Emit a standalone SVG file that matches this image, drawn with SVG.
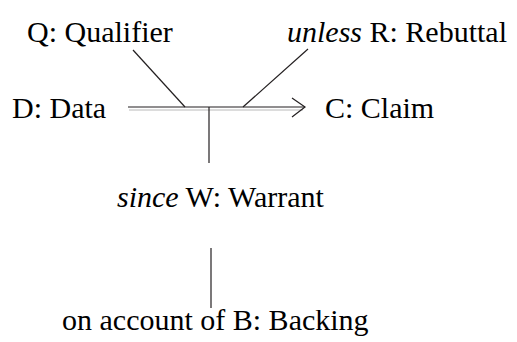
<svg xmlns="http://www.w3.org/2000/svg" width="517" height="342" viewBox="0 0 517 342">
<style>
.ln{stroke:#231f20;stroke-width:1.2;fill:none}
.sh{stroke:#d0d0d0;stroke-width:1.5;fill:none}
</style>
<rect width="517" height="342" fill="#fff"/>
<g id="connectors">
<line class="sh" x1="129" y1="110" x2="303" y2="110"/>
<line class="ln" x1="128" y1="107" x2="305" y2="107"/>
<polyline class="ln" points="292,98 305,107 292,117"/>
<line class="ln" x1="133" y1="50" x2="185" y2="107"/>
<line class="ln" x1="308" y1="49" x2="243" y2="107"/>
<line class="ln" x1="209" y1="107" x2="209" y2="163"/>
<line class="ln" x1="211" y1="248" x2="211" y2="308"/>
</g>
<g id="qualifier"><text x="27" y="42" font-family="Times New Roman, serif" font-size="30">Q: Qualifier</text></g>
<g id="rebuttal"><text x="287" y="42" font-family="Times New Roman, serif" font-size="30"><tspan font-style="italic">unless</tspan> R: Rebuttal</text></g>
<g id="data"><text x="12" y="118" font-family="Times New Roman, serif" font-size="30">D: Data</text></g>
<g id="claim"><text x="325" y="118" font-family="Times New Roman, serif" font-size="30">C: Claim</text></g>
<g id="warrant"><text x="117" y="207" font-family="Times New Roman, serif" font-size="30"><tspan font-style="italic">since</tspan> W: Warrant</text></g>
<g id="backing"><text x="62" y="330" font-family="Times New Roman, serif" font-size="30">on account of B: Backing</text></g>
</svg>
